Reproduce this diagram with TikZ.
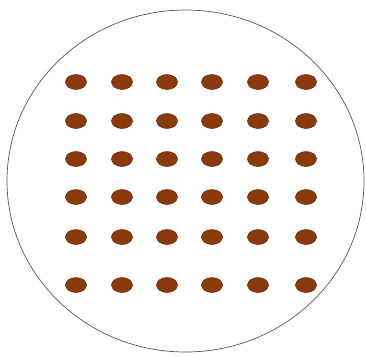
\documentclass[tikz,border=0pt]{standalone}
\usepackage{xcolor}
\usetikzlibrary{shapes.geometric}
\definecolor{rimgrey}{HTML}{4F5563}
\definecolor{dotbrown}{HTML}{8A3A0C}
\definecolor{dotedge}{HTML}{5E2A10}
\tikzset{
  rim/.style = {draw=rimgrey, line width=0.7pt},
  dot/.style = {ellipse, fill=dotbrown, draw=dotedge, line width=0.5pt,
                minimum width=21pt, minimum height=15pt, inner sep=0pt},
}
\begin{document}
\begin{tikzpicture}[x=1pt, y=-1pt]
  \useasboundingbox (0,0) rectangle (366,356);
  % ---------------- Outer ring ----------------
  \node[rim, ellipse, minimum width=357pt, minimum height=342pt, inner sep=0pt] (ring) at (185.5,181) {};
  % ---------------- Grid of dots ----------------
  \foreach \x [count=\i] in {76,122,167,212,258,306}
    \foreach \y [count=\j] in {82,121,159,197,237,285}
      \node[dot] (dot-\i-\j) at (\x,\y) {};
\end{tikzpicture}
\end{document}
